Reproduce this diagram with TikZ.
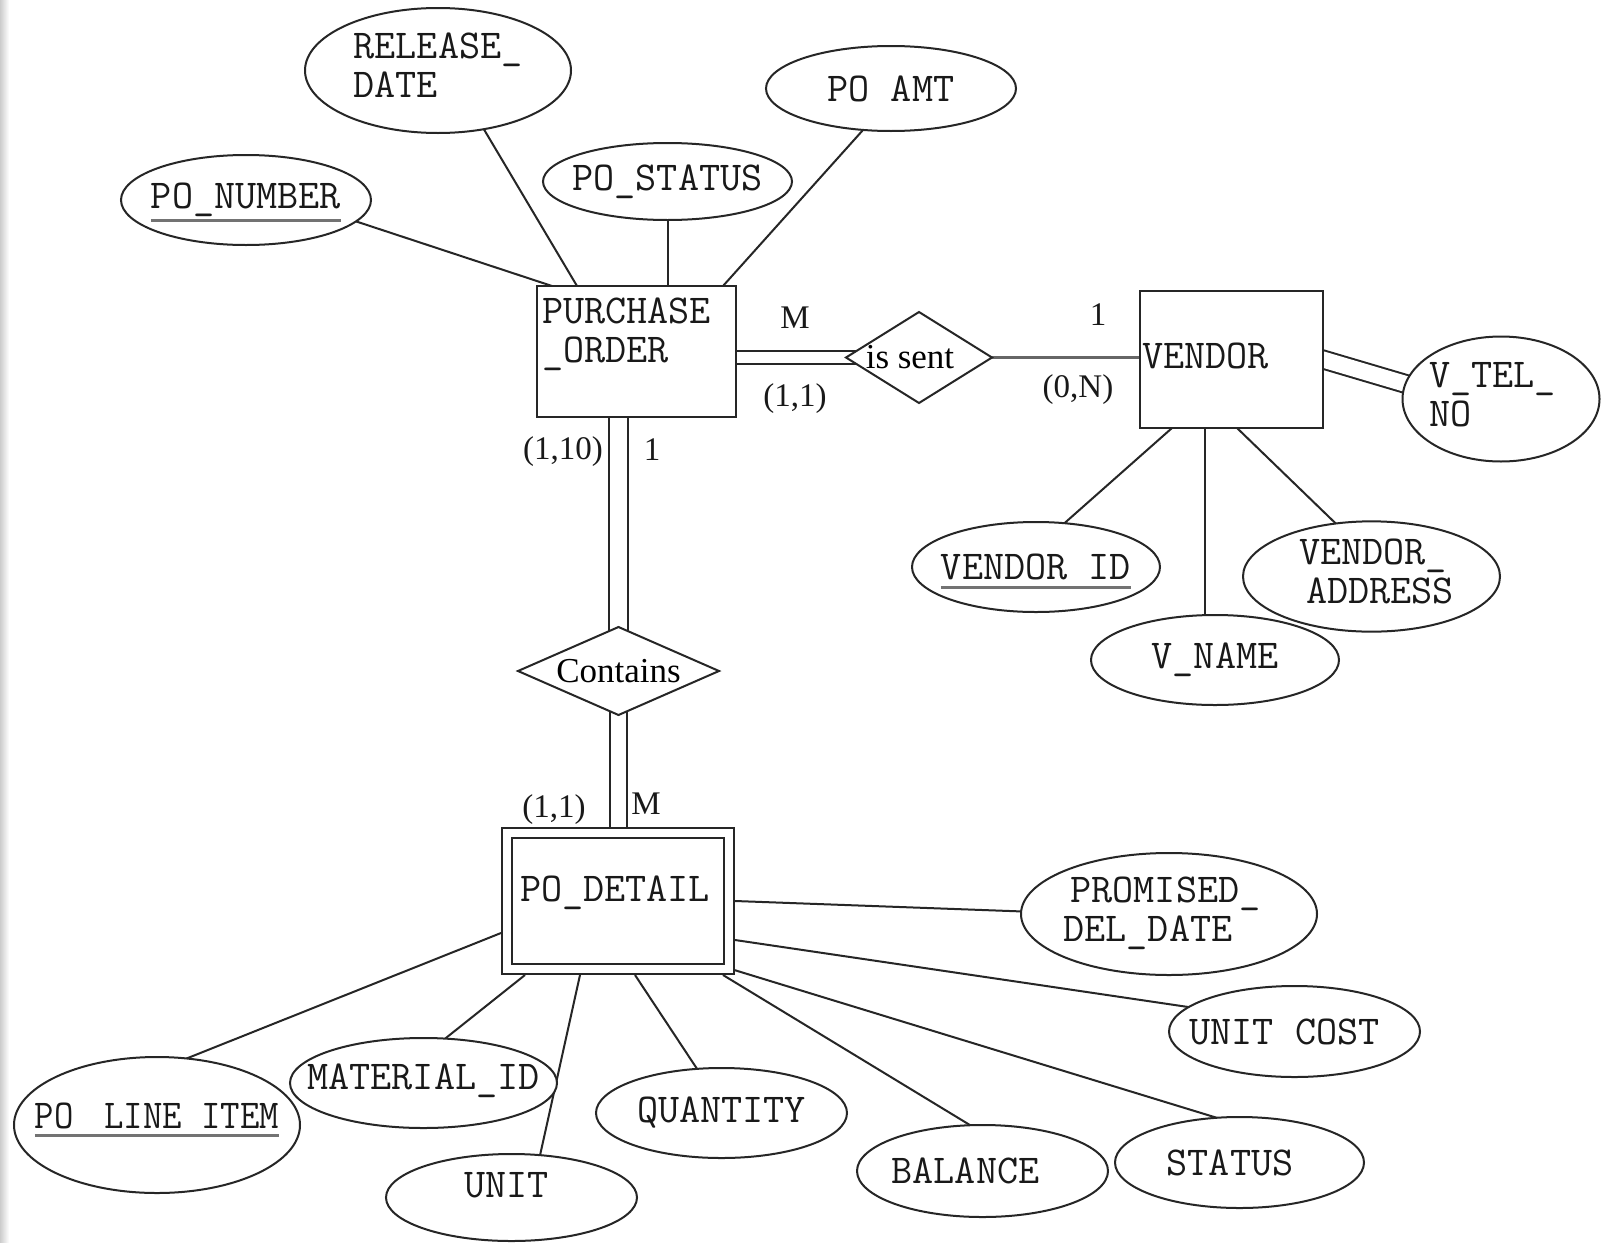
\documentclass[tikz,border=0pt]{standalone}
\usepackage{fontspec}
\usepackage{graphicx}
\newfontfamily\tmsf{Liberation Serif}
\usetikzlibrary{shapes.geometric,calc,backgrounds}
\newcommand\zw[1]{\makebox[0pt]{#1}}
\newcommand\ulx[2][-13pt]{\setbox0\hbox{#2}\rlap{\smash{\color{black!55}\rule[#1]{\wd0}{2.4pt}}}\box0}
\newcommand\twol[2]{\begin{tabular}{@{}l@{}}#1\\#2\end{tabular}}
\begin{document}
\begin{tikzpicture}[x=1pt,y=-1pt,
  every node/.style={inner sep=0pt,outer sep=0pt},
  mono/.style={font=\ttfamily\fontsize{41}{39}\selectfont,text=black!90},
  attr/.style={ellipse,draw=black!85,line width=2pt,fill=white,mono},
  ent/.style={rectangle,draw=black!85,line width=2pt,fill=white},
  rel/.style={diamond,draw=black!85,line width=2pt,fill=white,font=\tmsf\fontsize{35}{38}\selectfont},
  card/.style={font=\tmsf\fontsize{33}{36}\selectfont,text=black!90},
  conn/.style={draw=black!85,line width=2pt},
  dbl/.style={draw=black!85,line width=2pt,double=white,double distance=#1},
]
\useasboundingbox (0,0) rectangle (1606,1242);

% top attributes
\node[attr,minimum width=266pt,minimum height=125pt] (rd) at (438,70.5) {\zw{\twol{RELEASE\_}{DATE}}};
\node[attr,minimum width=250pt,minimum height=90pt] (pon) at (246,200) {\zw{\ulx{PO\_NUMBER}}};
\node[attr,minimum width=249pt,minimum height=77pt] (pos) at (667.5,181.5) {\zw{PO\_STATUS}};
\node[attr,minimum width=250pt,minimum height=85pt] (pam) at (891,88.5) {\zw{PO AMT}};

% purchase order
\node[ent,minimum width=199pt,minimum height=131pt] (po) at (636.5,351.5) {};
\node[mono,anchor=north west] (poT) at ($(po.north west)+(5,10)$) {\twol{PURCHASE}{\_ORDER}};

\node[rel,minimum width=146pt,minimum height=91pt] (isn) at (919,357.5) {\zw{is sent\kern18pt}};

% vendor
\node[ent,minimum width=183pt,minimum height=137pt] (ven) at (1231.5,359.5) {};
\node[mono,anchor=base west] (venT) at (1142,368) {VENDOR};
\node[attr,minimum width=197pt,minimum height=125pt] (vtel) at (1501,399) {\zw{\twol{V\_TEL\_}{NO}\kern17pt}};
\node[attr,minimum width=248pt,minimum height=90pt] (vid) at (1036,567) {\zw{\ulx[-9pt]{VENDOR ID}}};
\node[attr,minimum width=248pt,minimum height=90pt] (vnm) at (1215,660) {\zw{V\_NAME}};
\node[attr,minimum width=257pt,minimum height=103pt] (vad) at (1371.5,576.5) {\zw{\kern10pt\twol{VENDOR\_}{\kern7pt ADDRESS}}};

% contains
\node[rel,minimum width=201pt,minimum height=88pt] (ctn) at (618.5,671) {\zw{Contains}};

% po detail
\node[ent,double=white,double distance=8pt,outer sep=6pt,minimum width=222pt,minimum height=136pt] (pod) at (618,901) {};
\node[mono,anchor=base west] (podT) at (520,901) {PO\_DETAIL};

% bottom attributes
\node[attr,minimum width=296pt,minimum height=122pt] (pdd) at (1169,914) {\zw{\twol{\kern7pt PROMISED\_}{DEL\_DATE}\kern14pt}};
\node[attr,minimum width=251pt,minimum height=91pt] (uc) at (1294.5,1031.5) {\zw{UNIT COST\kern20pt}};
\node[attr,minimum width=249pt,minimum height=91pt] (sts) at (1239.5,1162.5) {\zw{STATUS\kern19pt}};
\node[attr,minimum width=251pt,minimum height=92pt] (bal) at (982.5,1171) {\zw{BALANCE\kern34pt}};
\node[attr,minimum width=251pt,minimum height=90pt] (qty) at (721.5,1113) {\zw{QUANTITY}};
\node[attr,minimum width=251pt,minimum height=87pt] (unit) at (511.5,1197.5) {\zw{\raisebox{0pt}[0pt][0pt]{UNIT}\kern10pt}};
\node[attr,minimum width=267pt,minimum height=90pt] (mat) at (423.5,1083) {\zw{\raisebox{-6.5pt}[0pt][0pt]{MATERIAL\_ID}}};
\node[attr,minimum width=286pt,minimum height=136pt] (pli) at (157,1125) {\zw{\raisebox{-3.5pt}[0pt][0pt]{\ulx[-8pt]{\scalebox{0.92}[1]{PO\kern12pt\ LINE ITEM}}}}};

% cardinalities
\node[card] (cM1) at (795,318) {M};
\node[card] (c11a) at (795,399) {(1,1)};
\node[card] (c1v) at (1098,315) {1};
\node[card] (c0N) at (1078,390) {(0,N)};
\node[card] (c110) at (563,452) {(1,10)};
\node[card] (c1b) at (652,450) {1};
\node[card] (c11b) at (554,810) {(1,1)};
\node[card] (cM2) at (646,804) {M};

\begin{scope}[on background layer]
  \fill[white] (0,0) rectangle (1606,1242);
  \shade[left color=black!20,right color=white] (0,0) rectangle (9,1242);
  % purchase order attributes
  \draw[conn] (pon.-11) -- ($(po.north west)+(15,0)$);
  \draw[conn] (rd.-52) -- ($(po.north west)+(40,0)$);
  \draw[conn] (pos.south) -- (pos.south |- po.center);
  \draw[conn] (pam.-124) -- ($(po.north west)+(186,0)$);
  % relationships
  \draw[dbl=11pt] (po.center |- isn.center) -- (isn.center);
  \draw[conn,line width=2.6pt,draw=black!60] (isn.center) -- (ven.center |- isn.center);
  \draw[dbl=16pt] ($(vtel.171)!1.04!(ven.east)$) -- ($(ven.east)!1.15!(vtel.171)$);
  \draw[dbl=17pt] (ctn.center |- po.center) -- (ctn.center);
  \draw[dbl=15pt] (ctn.center) -- (ctn.center |- pod.center);
  % vendor attributes
  \draw[conn] (vid.57) -- ($(ven.south west)+(32,0)$);
  \coordinate (vnt) at ($(ven.south west)+(65,0)$);
  \draw[conn] (vnt) -- (vnt |- vnm.center);
  \draw[conn] (vad.124) -- ($(ven.south west)+(97,0)$);
  % po detail attributes
  \draw[conn] (pli.66) -- ($(pod.north west)+(0,106)$);
  \draw[conn] (mat.64.5) -- ($(pod.south west)+(24,0)$);
  \draw[conn] (unit.56) -- ($(pod.south west)+(79,0)$);
  \draw[conn] (qty.119) -- ($(pod.south west)+(134,0)$);
  \draw[conn] (bal.105) -- ($(pod.south west)+(222,0)$);
  \draw[conn] (sts.117) -- ($(pod.south east)+(-4,-6)$);
  \draw[conn] (uc.167) -- ($(pod.north east)+(0,113)$);
  \draw[conn] (pdd.179) -- ($(pod.north east)+(0,74)$);
\end{scope}
\end{tikzpicture}
\end{document}
